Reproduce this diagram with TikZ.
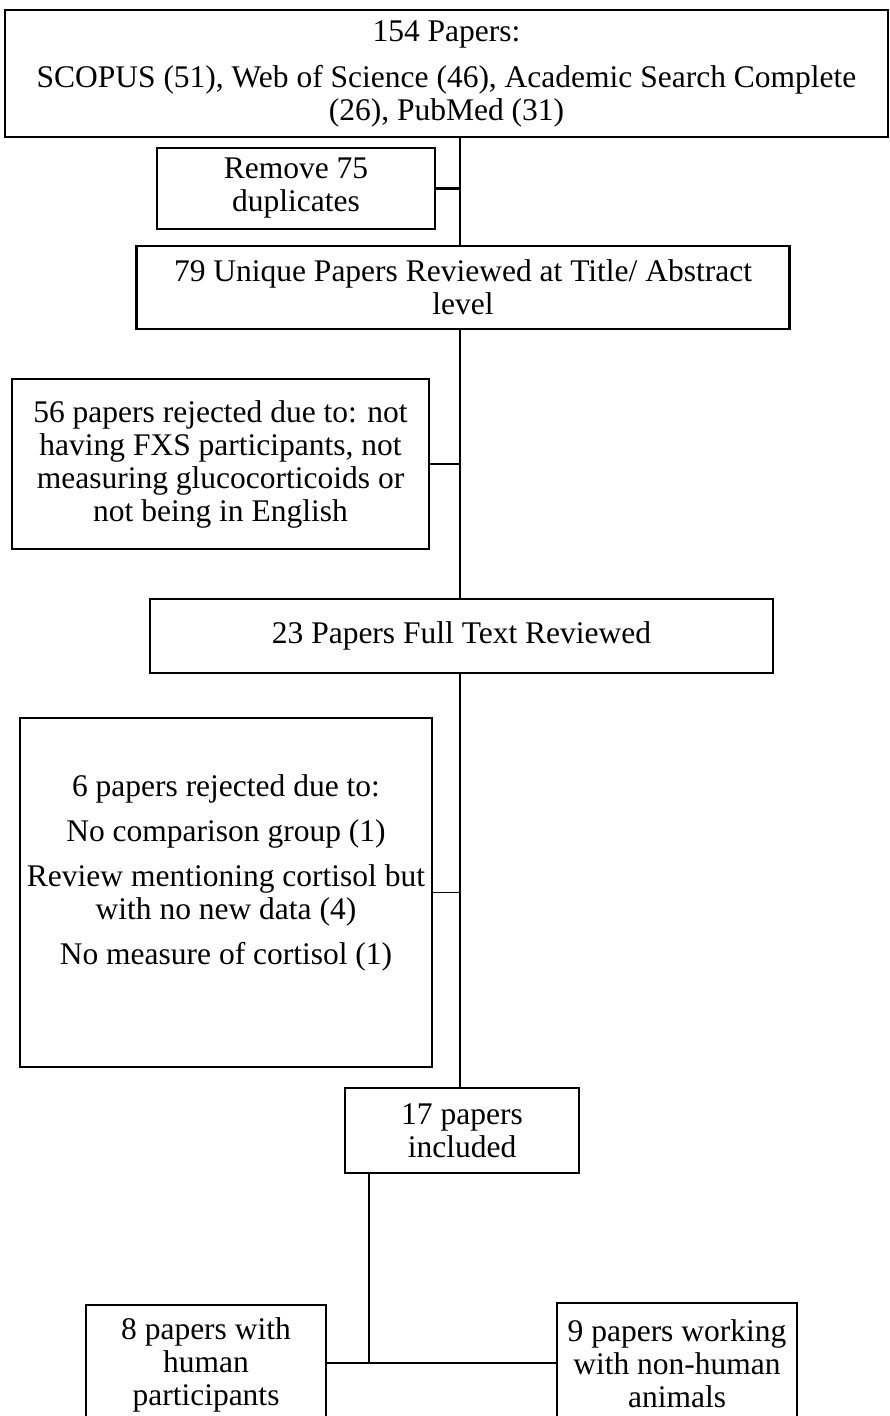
\documentclass[tikz,border=0pt]{standalone}
\usepackage{fontspec}
\setmainfont{Liberation Serif}
\usetikzlibrary{positioning}
\tikzset{
  stagebox/.style={draw, line width=2.2pt, align=center, inner sep=0pt,
    font=\fontsize{31.5}{33}\selectfont},
  thinlink/.style={line width=1.1pt},
  thicklink/.style={line width=2.2pt}
}
\begin{document}
\begin{tikzpicture}[x=1pt,y=-1pt]
    \clip (0,0) rectangle (890,1416);
    % boxes
    \node[stagebox, minimum width=883pt, minimum height=127pt] (search) at (446.5,73.5)
      {154 Papers:\\[13pt] SCOPUS (51), Web of Science (46), Academic Search Complete\\ (26), PubMed (31)};
    \node[stagebox, minimum width=278pt, minimum height=81pt] (dupl) at (296,188.5)
      {Remove 75\\ duplicates};
    \node[stagebox, minimum width=653pt, minimum height=83pt] (unique) at (463,287.5)
      {79 Unique Papers Reviewed at Title/ Abstract\\ level};
    \node[stagebox, minimum width=417pt, minimum height=170pt] (rejtitle) at (220.5,464)
      {56 papers rejected due to: not\\ having FXS participants, not\\ measuring glucocorticoids or\\ not being in English};
    \node[stagebox, minimum width=623pt, minimum height=74pt] (fulltext) at (461.5,636)
      {23 Papers Full Text Reviewed};
    \node[stagebox, minimum width=412pt, minimum height=349pt] (rejfull) at (226,892.5)
      {6 papers rejected due to:\\[12pt] No comparison group (1)\\[12pt] Review mentioning cortisol but\\ with no new data (4)\\[12pt] No measure of cortisol (1)\\[12pt] \mbox{}};
    \node[stagebox, minimum width=234pt, minimum height=85pt] (included) at (462,1130.5)
      {17 papers\\ included};
    \node[stagebox, minimum width=240pt, minimum height=120pt] (human) at (206,1365)
      {8 papers with\\ human\\ participants};
    \node[stagebox, minimum width=240pt, minimum height=122pt] (animal) at (677,1364)
      {9 papers working\\ with non-human\\ animals};
    % connectors
    \coordinate (spine) at (460,0);
    \coordinate (split) at (369,1363);
    \draw[thicklink] (search.south -| spine) -- (unique.north -| spine);
    \draw[thicklink] (dupl.east) -- (dupl.east -| spine);
    \draw[thinlink] (unique.south -| spine) -- (fulltext.north -| spine);
    \draw[thinlink] (rejtitle.east) -- (rejtitle.east -| spine);
    \draw[thinlink] (fulltext.south -| spine) -- (included.north -| spine);
    \draw[thinlink] (rejfull.east) -- (rejfull.east -| spine);
    \draw[thicklink] (included.south -| split) -- (split) -- (split -| human.east);
    \draw[thicklink] (split) -- (split -| animal.west);
\end{tikzpicture}
\end{document}
